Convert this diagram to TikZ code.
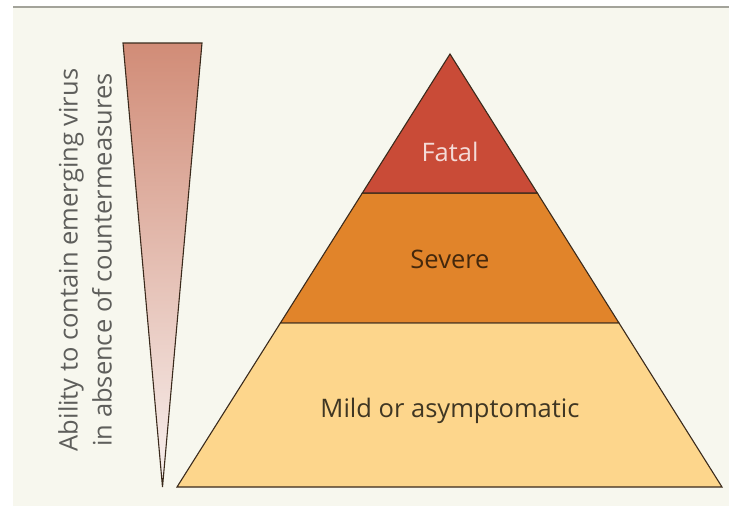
\documentclass[tikz,border=0pt]{standalone}
\usepackage{fontspec}
\setmainfont{Open Sans}
\usetikzlibrary{calc}

\begin{document}
\begin{tikzpicture}[x=1pt, y=-1pt]
    \definecolor{paperColour}{HTML}{F7F7EE}
    \definecolor{ruleColour}{HTML}{A3A39A}
    \definecolor{borderColour}{HTML}{3A2A1C}
    \definecolor{fatalColour}{HTML}{C94B37}
    \definecolor{severeColour}{HTML}{E1842A}
    \definecolor{mildColour}{HTML}{FDD68C}
    \definecolor{wedgeTop}{HTML}{D18C77}
    \definecolor{wedgeBottom}{HTML}{F8F1EF}

    \tikzset{
        band/.style={draw=borderColour, line width=1.1pt, line join=miter},
        label/.style={font=\fontsize{25.5}{30}\selectfont, inner sep=0pt}
    }

    \useasboundingbox (0,0) rectangle (729,506);

    % Draw background and top rule
    \fill[paperColour] (13,7) rectangle (729,506);
    \draw[ruleColour, line width=1.6pt] (13,7) -- (729,7);

    % Wedge on the left
    \coordinate (wedgeL) at (123,43);
    \coordinate (wedgeR) at (202,43);
    \coordinate (wedgeTip) at (162.5,487);

    \shade[top color=wedgeTop, bottom color=wedgeBottom] (wedgeL) -- (wedgeR) -- (wedgeTip) -- cycle;
    \draw[band] (wedgeL) -- (wedgeR) -- (wedgeTip) -- cycle;

    \node[label, rotate=90, align=center, text=black!62!paperColour, font=\fontsize{25.5}{34}\selectfont] (ability) at (85,260)
        {Ability to contain emerging virus\\in absence of countermeasures};

    % Pyramid corners
    \coordinate (apex) at (450,54);
    \coordinate (baseL) at (177,487);
    \coordinate (baseR) at (722,487);

    % Band limits
    \coordinate (fatalL) at ($(apex)!0.321!(baseL)$);
    \coordinate (fatalR) at ($(apex)!0.321!(baseR)$);
    \coordinate (severeL) at ($(apex)!0.621!(baseL)$);
    \coordinate (severeR) at ($(apex)!0.621!(baseR)$);

    \draw[band, fill=mildColour] (severeL) -- (severeR) -- (baseR) -- (baseL) -- cycle;
    \draw[band, fill=severeColour] (fatalL) -- (fatalR) -- (severeR) -- (severeL) -- cycle;
    \draw[band, fill=fatalColour] (apex) -- (fatalR) -- (fatalL) -- cycle;

    \node[label, text=white!80!fatalColour] (fatal) at (450,152) {Fatal};
    \node[label, text=black!70!severeColour] (severe) at (450,259) {Severe};
    \node[label, text=black!75!mildColour] (mild) at (450,411) {Mild or asymptomatic};

\end{tikzpicture}
\end{document}
